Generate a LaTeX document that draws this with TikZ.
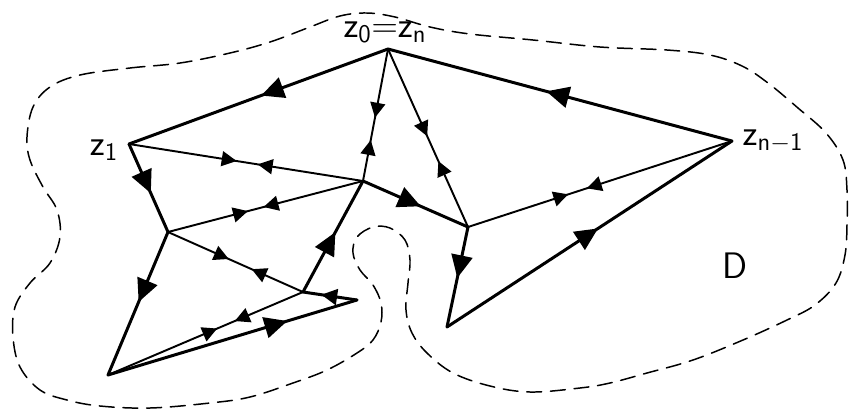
\documentclass[tikz,border=0pt]{standalone}
\usepackage{tikz}
\usetikzlibrary{arrows.meta,decorations.markings}

\begin{document}
\begin{tikzpicture}[x=0.02cm,y=-0.02cm,line cap=round,
  bd/.style={line width=1.7pt},
  cut/.style={line width=1.1pt},
  arrowat/.style={postaction={decorate,decoration={markings,
    mark=at position #1 with {\arrow{Triangle[length=13pt,width=12pt]}}}}},
  smallat/.style={postaction={decorate,decoration={markings,
    mark=at position #1 with {\arrow{Triangle[length=9pt,width=9pt]}}}}},
  pairat/.style 2 args={postaction={decorate,decoration={markings,
    mark=at position #1 with {\arrow{Triangle[length=8.5pt,width=8.5pt]}},
    mark=at position #2 with {\arrowreversed{Triangle[length=8.5pt,width=8.5pt]}}}}},
  lab/.style={font=\sffamily\fontsize{21}{24}\selectfont}]
\useasboundingbox (0,0) rectangle (849,410);

% region D
\draw[line width=0.85pt,dash pattern=on 8.5pt off 5pt] plot[smooth cycle,tension=0.6] coordinates {
  (80,75) (130,68) (180,63) (230,53) (270,42) (310,27) (340,16) (367,13)
  (395,17) (430,27) (470,34) (533,40) (600,47) (667,50) (710,55) (742,66)
  (768,83) (798,108) (826,133) (843,160) (847,190) (847,225) (845,255)
  (836,283) (815,305) (787,320) (743,340) (693,360) (647,373) (610,383)
  (580,388) (530,392) (490,386) (453,373) (427,353) (412,333) (406,310)
  (408,283) (410,260) (405,240) (390,228) (373,227) (357,237) (353,253)
  (360,270) (373,285) (381,303) (381,322) (373,340) (357,353) (327,370)
  (293,383) (250,397) (210,403) (150,408) (100,406) (67,400) (40,390)
  (20,367) (13,337) (15,307) (30,283) (50,263) (60,237) (57,210) (43,187)
  (30,160) (27,137) (33,107) (50,87)};

% vertices
\coordinate (z0) at (388,49);
\coordinate (z1) at (129,144);
\coordinate (zn1) at (732,141);
\coordinate (A) at (363,181);
\coordinate (B) at (468,227);
\coordinate (C) at (168,232);
\coordinate (D) at (303,292);
\coordinate (E) at (357,300);
\coordinate (F) at (108,375);
\coordinate (G) at (447,327);

% labels
\node[lab] (lz0) at (385,32) {$\mathsf{z_0{=}z_n}$};
\node[lab] (lz1) at (104,150) {$\mathsf{z_1}$};
\node[lab] (lzn1) at (773,141) {$\mathsf{z_{n-1}}$};
\node[lab] (ldom) at (735,266) {D};

% boundary polygon
\draw[bd,arrowat=0.49] (z0) -- (z1);
\draw[bd,arrowat=0.56] (z1) -- (C);
\draw[bd,arrowat=0.49] (C) -- (F);
\draw[bd,arrowat=0.72] (F) -- (E);
\draw[bd,smallat=0.66] (E) -- (D);
\draw[bd,arrowat=0.54] (D) -- (A);
\draw[bd,arrowat=0.55] (A) -- (B);
\draw[bd,arrowat=0.51] (B) -- (G);
\draw[bd,arrowat=0.53] (G) -- (zn1);
\draw[bd,arrowat=0.54] (zn1) -- (z0);

% cuts
\draw[cut,pairat={0.52}{0.69}] (z0) -- (A);
\draw[cut,pairat={0.49}{0.63}] (z0) -- (B);
\draw[cut,pairat={0.46}{0.55}] (z1) -- (A);
\draw[cut,pairat={0.41}{0.49}] (C) -- (A);
\draw[cut,pairat={0.45}{0.62}] (C) -- (D);
\draw[cut,pairat={0.56}{0.65}] (F) -- (D);
\draw[cut,pairat={0.38}{0.45}] (B) -- (zn1);
\end{tikzpicture}
\end{document}
